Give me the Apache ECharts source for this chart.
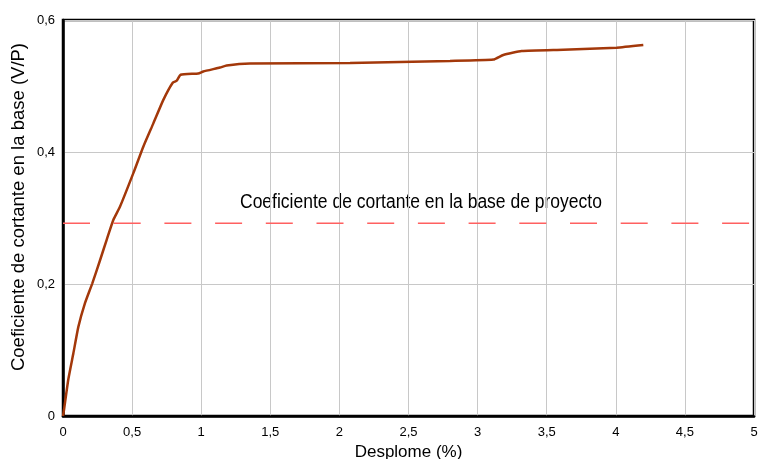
<!DOCTYPE html>
<html><head><meta charset="utf-8">
<script src="https://cdn.jsdelivr.net/npm/echarts@6/dist/echarts.min.js"></script>
<style>html,body{margin:0;padding:0;background:#fff}#c{width:760px;height:459px}</style>
</head><body><div id="c"></div>
<script>
const drift = [0, 0.007, 0.038, 0.075, 0.111, 0.159, 0.212, 0.268, 0.316, 0.364, 0.412, 0.509, 0.581, 0.653, 0.726, 0.794, 0.823, 0.851, 0.979, 1.015, 1.136, 1.184, 1.353, 2.077, 2.8, 3.114, 3.186, 3.319, 3.62, 4.006, 4.199];
const coef  = [0, 0.009, 0.055, 0.095, 0.135, 0.171, 0.201, 0.236, 0.267, 0.297, 0.317, 0.368, 0.408, 0.443, 0.479, 0.505, 0.508, 0.517, 0.519, 0.522, 0.528, 0.531, 0.534, 0.535, 0.538, 0.54, 0.547, 0.553, 0.555, 0.558, 0.562];
const designCoef = 0.292;
const designLabel = 'Coeficiente de cortante en la base de proyecto';
const xTitle = 'Desplome (%)';
const yTitle = 'Coeficiente de cortante en la base (V/P)';

const chart = echarts.init(document.getElementById('c'));
const fmt = v => String(Math.round(v*10)/10).replace('.', ',');
chart.setOption({
  animation: false,
  grid: {left: 63, right: 6, top: 20, bottom: 43, outerBoundsMode: 'none', containLabel: false,
         show: true, borderColor: '#000', borderWidth: 2.5, backgroundColor: 'transparent'},
  xAxis: {
    type: 'value', min: 0, max: 5, interval: 0.5,
    name: xTitle, nameLocation: 'middle', nameGap: 28,
    nameTextStyle: {fontFamily: 'Liberation Sans', fontSize: 17, color: '#000'},
    axisLine: {show: true, onZero: false, lineStyle: {color: '#000', width: 2.5}},
    axisTick: {show: false},
    axisLabel: {formatter: fmt, fontFamily: 'Liberation Sans', fontSize: 13, color: '#000', margin: 10},
    splitLine: {show: true, lineStyle: {color: '#c8c8c8', width: 1}}
  },
  yAxis: {
    type: 'value', min: 0, max: 0.6, interval: 0.2,
    axisLine: {show: true, lineStyle: {color: '#000', width: 2.5}},
    axisTick: {show: false},
    axisLabel: {formatter: fmt, fontFamily: 'Liberation Sans', fontSize: 13, color: '#000', margin: 8},
    splitLine: {show: true, lineStyle: {color: '#c8c8c8', width: 1}}
  },
  series: [
    {
      type: 'line', data: drift.map((x, i) => [x, coef[i]]),
      showSymbol: false, smooth: 0.15,
      lineStyle: {color: '#a3380a', width: 2.5},
      z: 5
    },
    {
      type: 'line', data: [[0, designCoef], [5, designCoef]],
      showSymbol: false,
      lineStyle: {color: '#ff6060', width: 1.5, type: [27, 23.7]},
      z: 3
    }
  ],
  graphic: [{
    type: 'text', x: 240, y: 192, scaleX: 0.875,
    style: {text: designLabel, font: '20px "Liberation Sans"', fill: '#000'}
  }, {
    type: 'text', x: 19, y: 207, rotation: Math.PI / 2,
    style: {text: yTitle, font: '18.5px "Liberation Sans"', fill: '#000', align: 'center', verticalAlign: 'middle'}
  }]
});
</script></body></html>
